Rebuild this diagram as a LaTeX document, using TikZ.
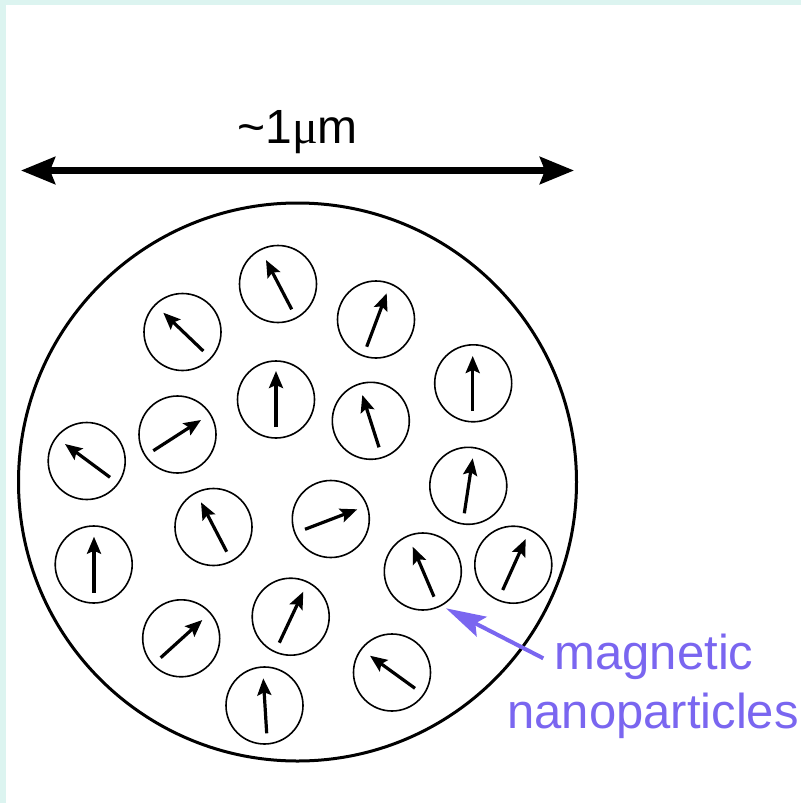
\documentclass[tikz,border=0pt]{standalone}
\usepackage{fontspec}
\setmainfont{Liberation Sans}
\newfontfamily\mufont{Liberation Serif}
\usetikzlibrary{arrows.meta}
\definecolor{bandcol}{RGB}{220,244,240}
\definecolor{purp}{RGB}{122,102,240}
\tikzset{
  particle/.style={circle,draw=black,line width=1.6pt,minimum size=77pt,inner sep=0pt},
  spin/.style={line width=3.2pt,-{Stealth[length=17pt,width=14pt,inset=3pt]}},
  dim/.style={line width=6.5pt,{Stealth[length=34pt,width=27pt,inset=5pt]}-{Stealth[length=34pt,width=27pt,inset=5pt]}},
  pointer/.style={draw=purp,line width=4pt,-{Stealth[length=40pt,width=22pt,inset=7pt]},purp},
  lbl/.style={font=\fontsize{48}{58}\selectfont,anchor=base,inner sep=0pt},
  plbl/.style={font=\fontsize{49}{59}\selectfont,anchor=base,inner sep=0pt,text=purp}
}
\begin{document}
\begin{tikzpicture}[x=1pt,y=-1pt]
\useasboundingbox (0,0) rectangle (801,803);
\fill[white] (0,0) rectangle (801,803);
\fill[bandcol] (0,0) rectangle (801,5);
\fill[bandcol] (0,0) rectangle (6,803);
% dimension
\coordinate (dl) at (21,170.5);
\coordinate (dr) at (574,170.5);
\draw[dim] (dl) -- (dr);
\node[lbl] (size) at (297.5,143) {\textasciitilde 1{\mufont μ}m};
% big circle
\node[circle,draw=black,line width=3pt,minimum size=558pt,inner sep=0pt] (cell) at (297.5,482) {};
% particles: center, tail, tip
\foreach \n/\cx/\cy/\ax/\ay/\bx/\by in {
 1/278/284/291.7/309.3/266/260,
 2/182.5/332/203.3/351/163.3/312.7,
 3/376/319.5/366.7/346.7/386.7/293.3,
 4/276/399.5/276/427/276/371,
 5/370.8/420.8/379/447.3/362.3/395,
 6/177.5/434.5/153.3/450.7/201/420,
 7/86.7/461/110/477.3/65/444,
 8/473.2/383.3/472.7/411/472.7/356,
 9/468.3/485.8/464.3/513.3/472.7/458.3,
 10/213.5/527/226.7/551.7/201/502.3,
 11/330.8/519/305/529.3/357.3/509.3,
 12/93.7/564.5/94/592.7/94/536.7,
 13/422.8/571.5/434/596.7/412.7/546.7,
 14/513.3/564.7/502.7/590/525.7/539,
 15/290.7/616.7/279.3/642.7/303.3/591.7,
 16/181.2/638.3/160.7/657.7/202.3/620,
 17/392/672.5/415/688.3/370/655.7,
 18/264.5/705.5/266.7/733.3/263.3/678.3}{
  \node[particle] (p\n) at (\cx,\cy) {};
  \coordinate (t\n) at (\ax,\ay);
  \coordinate (h\n) at (\bx,\by);
  \draw[spin] (t\n) -- (h\n);
}
% label
\node[plbl] (lab1) at (654,669.3) {magnetic};
\node[plbl] (lab2) at (653,728.3) {nanoparticles};
\coordinate (ptail) at (543.3,658.3);
\coordinate (ptip) at (446,608.3);
\draw[pointer] (ptail) -- (ptip);
\end{tikzpicture}
\end{document}
